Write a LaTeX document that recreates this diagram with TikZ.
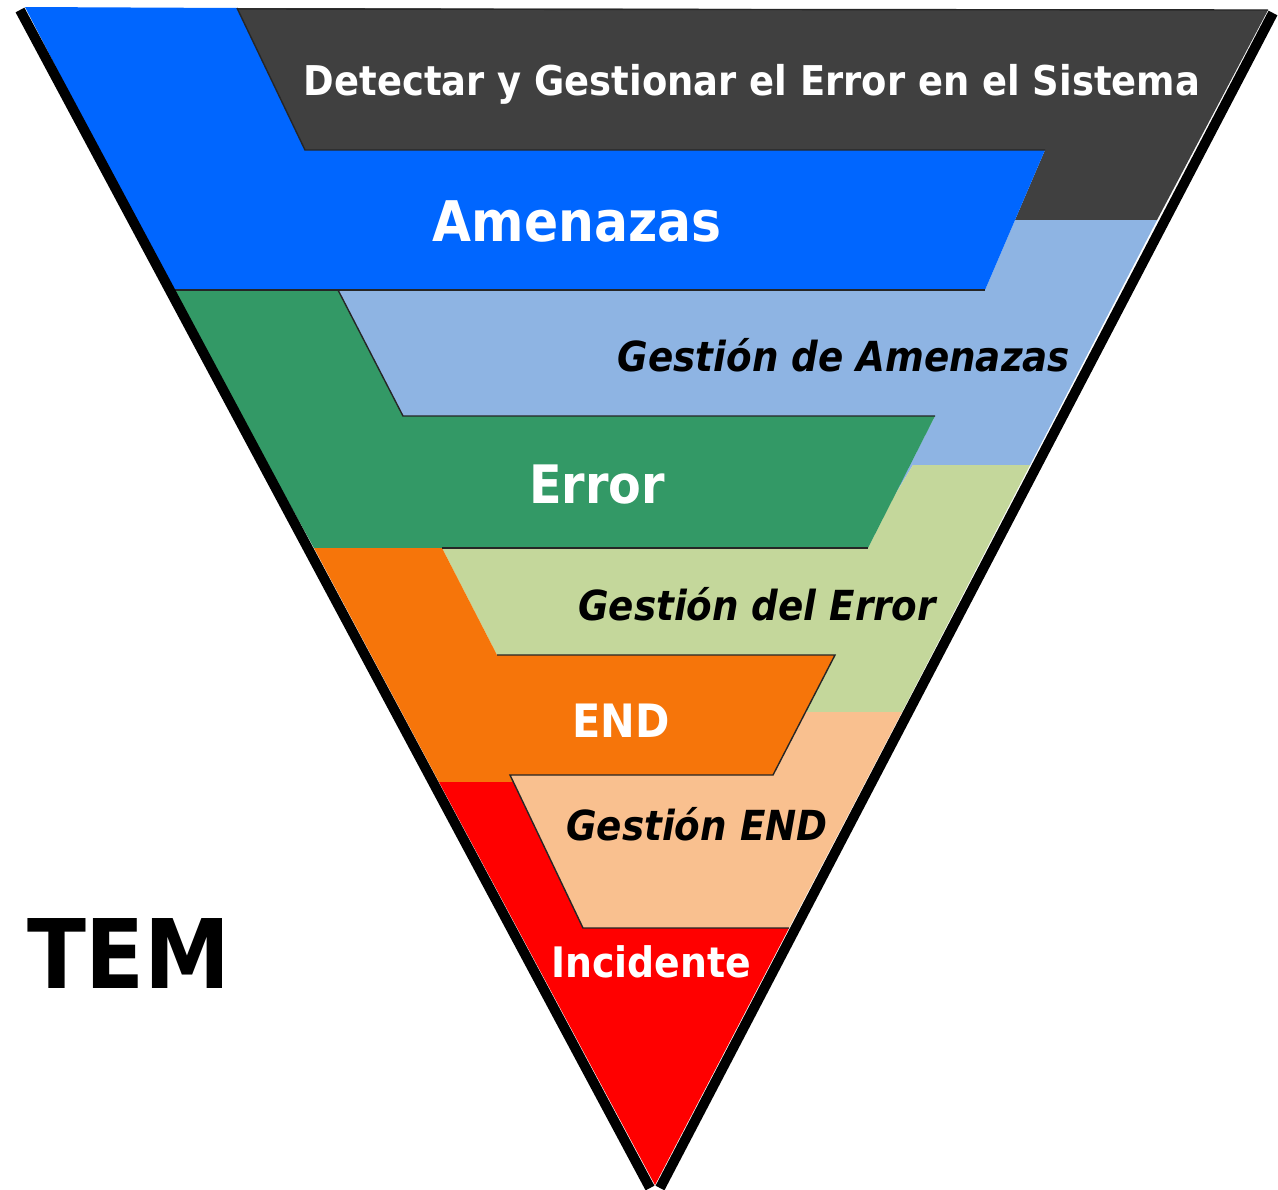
\documentclass[tikz,border=0pt]{standalone}
\usepackage{fontspec}
\newfontfamily\tahoma{DejaVu Sans}[FakeStretch=0.9]
\definecolor{gris}{HTML}{404040}
\definecolor{azul}{HTML}{0066FF}
\definecolor{celeste}{HTML}{8EB4E3}
\definecolor{verde}{HTML}{339966}
\definecolor{verdeclaro}{HTML}{C4D79B}
\definecolor{naranja}{HTML}{F6750A}
\definecolor{melocoton}{HTML}{F9C08F}
\definecolor{rojo}{HTML}{FF0000}

\begin{document}
\begin{tikzpicture}[x=0.5pt,y=-0.5pt,
    borde/.style={line width=5pt},
    junta/.style={line width=0.7pt,draw=black!85},
    rotulo/.style={font=\tahoma\bfseries,inner sep=0pt,anchor=base}]
    \useasboundingbox (0,0) rectangle (1278,1189);
    % capas de la derecha
    \fill[gris] (237,8)--(1268,10)--(1157,220)--(1015,220)--(1045,150)--(305,150)--cycle;
    \fill[celeste] (338,290)--(985,290)--(1015,220)--(1157,220)--(1030,465)--(913,465)--(893,498)--(935,416)--(403,416)--cycle;
    \fill[verdeclaro] (442,548)--(868,548)--(893,498)--(913,465)--(1030,465)--(902,712)--(806,712)--(835,655)--(497,655)--cycle;
    \fill[melocoton] (510,775)--(773,775)--(806,712)--(902,712)--(789,928)--(583,928)--cycle;
    % capas de la izquierda
    \fill[azul] (25,7)--(237,8)--(305,150)--(1045,150)--(985,290)--(171,290)--cycle;
    \fill[verde] (171,290)--(338,290)--(403,416)--(935,416)--(868,548)--(314,548)--cycle;
    \fill[naranja] (314,548)--(442,548)--(497,655)--(835,655)--(773,775)--(510,775)--(513,782)--(439,782)--cycle;
    \fill[rojo] (439,782)--(513,782)--(583,928)--(789,928)--(655,1185)--cycle;
    % juntas
    \draw[junta] (237,9)--(1268,10);
    \draw[junta] (237,8)--(305,150)--(1045,150);
    \draw[junta] (171,290)--(985,290);
    \draw[junta] (338,290)--(403,416)--(935,416);
    \draw[junta] (442,548)--(868,548);
    \draw[junta] (497,655)--(835,655)--(773,775)--(510,775)--(583,928)--(789,928);
    % bordes del embudo
    \draw[borde] (20,10)--(650,1188);
    \draw[borde] (1273,13)--(660,1188);
    % textos
    \node[rotulo,white,font=\tahoma\bfseries\fontsize{20.5}{24}\selectfont] (sistema) at (752,95) {Detectar y Gestionar el Error en el Sistema};
    \node[rotulo,white,font=\tahoma\bfseries\fontsize{28}{32}\selectfont] (amenazas) at (577,241) {Amenazas};
    \node[rotulo,black,font=\tahoma\bfseries\itshape\fontsize{20.7}{24}\selectfont] (gamenazas) at (844,371) {Gestión de Amenazas};
    \node[rotulo,white,font=\tahoma\bfseries\fontsize{26.5}{30}\selectfont] (error) at (597,503) {Error};
    \node[rotulo,black,font=\tahoma\bfseries\itshape\fontsize{20.7}{24}\selectfont] (gerror) at (757,620) {Gestión del Error};
    \node[rotulo,white,font=\tahoma\bfseries\fontsize{23}{27}\selectfont] (end) at (621,737) {END};
    \node[rotulo,black,font=\tahoma\bfseries\itshape\fontsize{20.7}{24}\selectfont] (gend) at (697,840) {Gestión END};
    \node[rotulo,white,font=\tahoma\bfseries\fontsize{21}{25}\selectfont] (incidente) at (651,977) {Incidente};
    \node[rotulo,black,font=\tahoma\bfseries\fontsize{48}{52}\selectfont] (tem) at (129,988) {TEM};
\end{tikzpicture}
\end{document}
